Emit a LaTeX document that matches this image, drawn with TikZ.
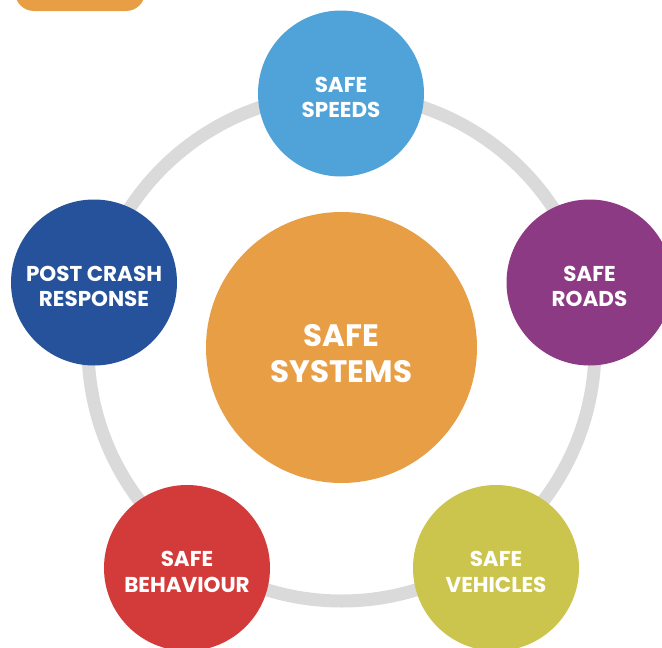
\documentclass[tikz,border=0pt]{standalone}
\usepackage{fontspec}
\setmainfont{Poppins}
\definecolor{ringgray}{HTML}{DADADA}
\definecolor{cspeeds}{HTML}{4FA3D9}
\definecolor{croads}{HTML}{8D3A84}
\definecolor{ccrash}{HTML}{25529A}
\definecolor{cbehav}{HTML}{D33B3A}
\definecolor{cvehic}{HTML}{CBC54D}
\definecolor{csys}{HTML}{E89E44}
\tikzset{
  pillar/.style={circle, minimum size=166pt, inner sep=0pt, fill=#1},
  pillartext/.style={text=white, inner sep=0pt, font=\bfseries\fontsize{21.5}{25.5}\selectfont, align=center},
  hub/.style={circle, minimum size=271pt, inner sep=0pt, fill=csys},
  hubtext/.style={text=white, inner sep=0pt, font=\bfseries\fontsize{31}{35.5}\selectfont, align=center},
  ring/.style={draw=ringgray, line width=13pt}
}
\begin{document}
\begin{tikzpicture}[x=1pt,y=-1pt]
\useasboundingbox (0,0) rectangle (662,648);
\fill[csys, rounded corners=19pt] (15,-30) rectangle (145,11);
\coordinate (rc) at (341.5,347.5);
\draw[ring] (rc) circle[radius=253.5pt];
\node[hub] (sys) at (341.5,347.5) {};
\node[pillar=cspeeds] (speeds) at (341,93.5) {};
\node[pillar=croads] (roads) at (589.5,282.5) {};
\node[pillar=ccrash] (crash) at (94,282.5) {};
\node[pillar=cbehav] (behav) at (187,568) {};
\node[pillar=cvehic] (vehic) at (496,568) {};
\node[hubtext] (sysT) at ([yshift=-6pt]sys.center) {SAFE\\SYSTEMS};
\node[pillartext] (speedsT) at ([yshift=-4pt]speeds.center) {SAFE\\SPEEDS};
\node[pillartext] (roadsT) at ([yshift=-4pt]roads.center) {SAFE\\ROADS};
\node[pillartext] (crashT) at ([yshift=-4pt]crash.center) {POST CRASH\\RESPONSE};
\node[pillartext] (behavT) at ([yshift=-4pt]behav.center) {SAFE\\BEHAVIOUR};
\node[pillartext] (vehicT) at ([yshift=-4pt]vehic.center) {SAFE\\VEHICLES};
\end{tikzpicture}
\end{document}
